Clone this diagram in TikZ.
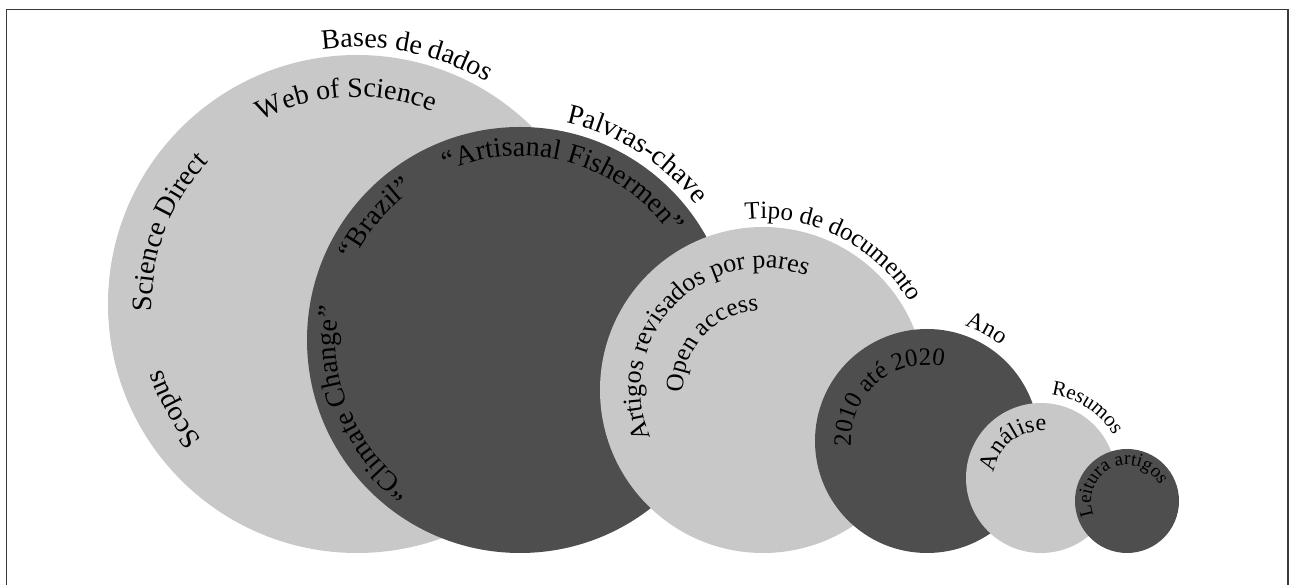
\documentclass[tikz,border=0pt]{standalone}
\usepackage{fontspec}
\setmainfont{Liberation Serif}
\usetikzlibrary{decorations.text}
\definecolor{lightc}{HTML}{C8C8C8}
\definecolor{darkc}{HTML}{4E4E4E}
\definecolor{framec}{HTML}{3A3A3A}
\newcommand\fsz[1]{\fontsize{#1}{#1}\selectfont}
\begin{document}
\begin{tikzpicture}[x=1pt,y=1pt,
  disc/.style={circle, inner sep=0pt, outer sep=0pt, draw=none, minimum size=#1},
  lightdisc/.style={disc=#1, fill=lightc},
  darkdisc/.style={disc=#1, fill=darkc},
  arclabel/.style={decorate, decoration={text along path, text align=left, text={#1}}},
]
\useasboundingbox (0,0) rectangle (1291,585);
\draw[framec, line width=1.6pt] (6.5,0) -- (6.5,575.5) -- (1288,575.5) -- (1288,0);

\node[lightdisc=498pt] (c1) at (357,281) {};
\node[darkdisc=426pt]  (c2) at (520,245) {};
\node[lightdisc=326pt] (c3) at (763,195) {};
\node[darkdisc=224pt]  (c4) at (927,144) {};
\node[lightdisc=150pt] (c5) at (1041,107) {};
\node[darkdisc=104pt]  (c6) at (1127,84) {};

% circle 1
\path[arclabel={|\fsz{28}|Bases de dados}] ([shift={(97.8:257)}]c1.center) arc[start angle=97.8, end angle=20, radius=257];
\path[arclabel={|\fsz{28}|Web of Science}] ([shift={(117.6:207)}]c1.center) arc[start angle=117.6, end angle=30, radius=207];
\path[arclabel={|\fsz{28}|Science Direct}] ([shift={(182:205)}]c1.center) arc[start angle=182, end angle=100, radius=205];
\path[arclabel={|\fsz{28}|Scopus}] ([shift={(221:206)}]c1.center) arc[start angle=221, end angle=160, radius=206];

% circle 2
\path[arclabel={|\fsz{28}|Palvras-chave}] ([shift={(78:222)}]c2.center) arc[start angle=78, end angle=10, radius=222];
\path[arclabel={|\fsz{28}|“Climate Change”}] ([shift={(234:184)}]c2.center) arc[start angle=234, end angle=150, radius=184];
\path[arclabel={|\fsz{28}|“Brazil”}] ([shift={(154.4:184)}]c2.center) arc[start angle=154.4, end angle=110, radius=184];
\path[arclabel={|\fsz{28}|“Artisanal Fishermen”}] ([shift={(113.5:184)}]c2.center) arc[start angle=113.5, end angle=10, radius=184];

% circle 3
\path[arclabel={|\fsz{25}|Tipo de documento}] ([shift={(96:171)}]c3.center) arc[start angle=96, end angle=10, radius=171];
\path[arclabel={|\fsz{26}|Artigos revisados por pares}] ([shift={(203:122)}]c3.center) arc[start angle=203, end angle=40, radius=122];
\path[arclabel={|\fsz{25}|Open access}] ([shift={(182:80)}]c3.center) arc[start angle=182, end angle=60, radius=80];

% circle 4
\path[arclabel={|\fsz{24}|Ano}] ([shift={(72:121)}]c4.center) arc[start angle=72, end angle=30, radius=121];
\path[arclabel={|\fsz{25}|2010 até 2020}] ([shift={(184:76)}]c4.center) arc[start angle=184, end angle=40, radius=76];

% circle 5
\path[arclabel={|\fsz{21}|Resumos}] ([shift={(83:84)}]c5.center) arc[start angle=83, end angle=10, radius=84];
\path[arclabel={|\fsz{24}|Análise}] ([shift={(173:47)}]c5.center) arc[start angle=173, end angle=50, radius=47];

% circle 6
\path[arclabel={|\fsz{19}|Leitura artigos}] ([shift={(203:36)}]c6.center) arc[start angle=203, end angle=0, radius=36];
\end{tikzpicture}
\end{document}
